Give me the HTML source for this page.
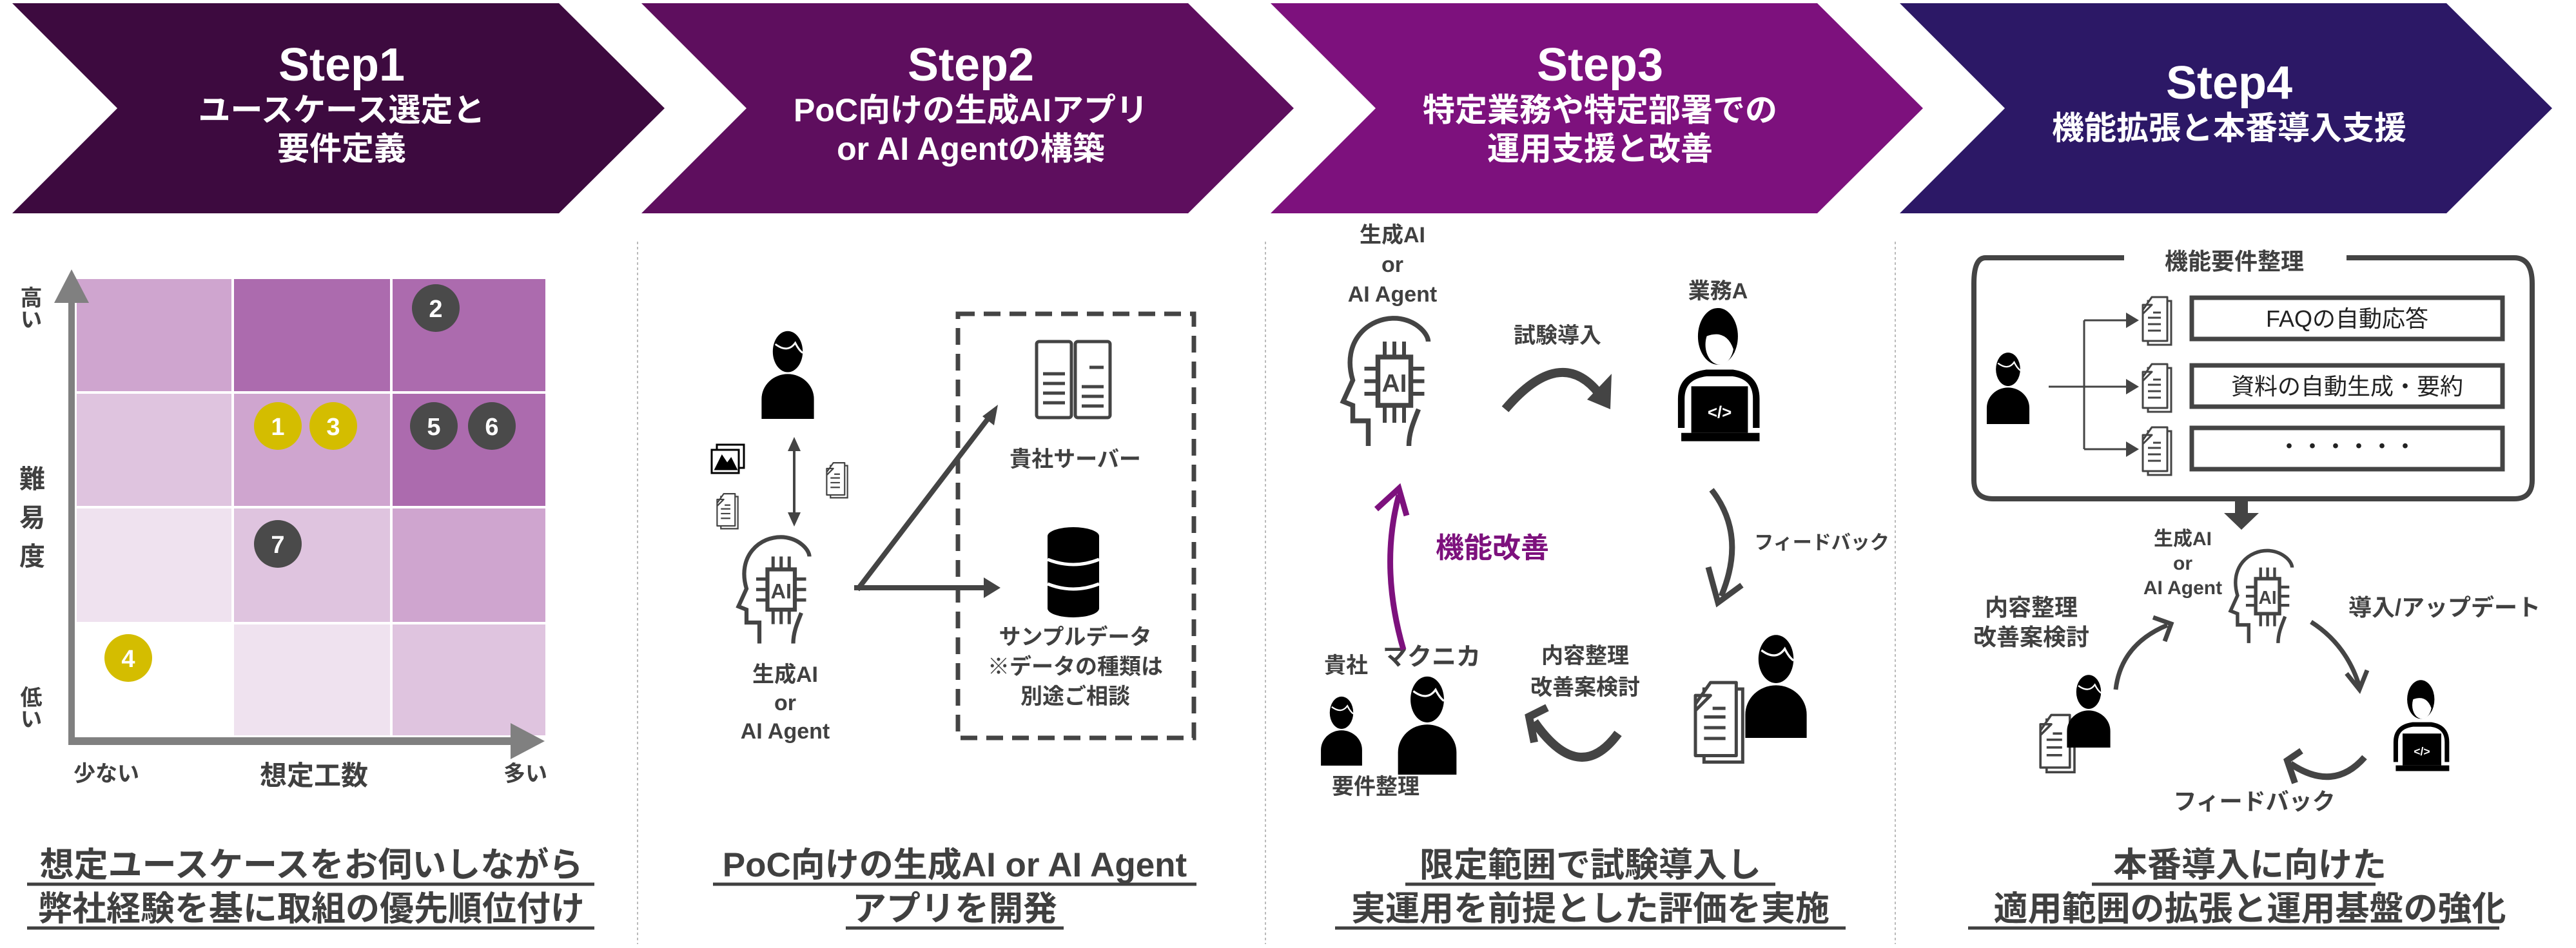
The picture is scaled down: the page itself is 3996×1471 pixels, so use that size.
<!DOCTYPE html>
<html><head><meta charset="utf-8">
<style>
html,body{margin:0;padding:0;background:#fff;}
svg{display:block;}
text{font-family:"Liberation Sans","Noto Sans CJK JP",sans-serif;font-weight:bold;}
</style></head>
<body>
<svg width="3996" height="1471" viewBox="0 0 3996 1471" xmlns="http://www.w3.org/2000/svg">
<defs>
<symbol id="person" viewBox="0 0 100 150">
 <ellipse cx="50" cy="42" rx="24" ry="33" fill="#000"/>
 <path d="M30 30 Q50 45 62 28 Q68 40 74 44" stroke="#fff" stroke-width="3" fill="none"/>
 <path d="M8 150 V118 A42 40 0 0 1 92 118 V150 Z" fill="#000"/>
</symbol>
<symbol id="doc" viewBox="0 0 60 80">
 <path d="M14 8 H50 V76 H14 Z" fill="#fff" stroke="#444" stroke-width="3"/>
 <path d="M6 14 H20 L6 28 Z M20 2 H44 V70 H6 V22 Z" fill="#fff" stroke="#444" stroke-width="3" stroke-linejoin="round"/>
 <path d="M14 34 H34 M14 44 H34 M14 54 H34 M22 26 H34" stroke="#444" stroke-width="3"/>
</symbol>
<symbol id="aihead" viewBox="0 0 100 140">
 <path d="M30 138 V112 H14 V96 L4 92 L14 70 C2 30 30 4 60 6 C80 8 92 22 92 30" fill="none" stroke="#444" stroke-width="5"/>
 <path d="M82 100 C76 115 72 125 72 138" fill="none" stroke="#444" stroke-width="5"/>
 <rect x="40" y="46" width="34" height="50" fill="#fff" stroke="#444" stroke-width="5"/>
 <text x="57" y="82" text-anchor="middle" font-size="26" fill="#444" font-family="Liberation Sans,sans-serif">AI</text>
 <path d="M47 30 V46 M57 30 V46 M67 30 V46 M47 96 V114 M57 96 V114 M67 96 V114 M26 58 H40 M26 71 H40 M26 84 H40 M74 58 H88 M74 71 H88 M74 84 H88" stroke="#444" stroke-width="4"/>
</symbol>
<symbol id="dev" viewBox="0 0 120 170">
 <ellipse cx="58" cy="40" rx="24" ry="34" fill="#000"/>
 <ellipse cx="60" cy="50" rx="17" ry="24" fill="#fff"/>
 <path d="M40 30 Q55 10 78 24 L78 60 Q70 30 44 40 Z" fill="#000"/>
 <path d="M14 150 V115 Q14 88 44 84 H76 Q104 88 104 115 V150" fill="none" stroke="#000" stroke-width="8"/>
 <rect x="26" y="100" width="68" height="56" fill="#000"/>
 <rect x="14" y="156" width="94" height="10" fill="#000"/>
 <text x="60" y="138" text-anchor="middle" font-size="20" fill="#fff" font-family="Liberation Sans,sans-serif">&lt;/&gt;</text>
</symbol>
</defs>

<polygon points="19,5 867,5 1031,168 867,331 19,331 182,168" fill="#3d0a3f"/>
<polygon points="995,5 1843,5 2007,168 1843,331 995,331 1158,168" fill="#5e0e5e"/>
<polygon points="1971,5 2819,5 2983,168 2819,331 1971,331 2134,168" fill="#7d117d"/>
<polygon points="2947,5 3795,5 3959,168 3795,331 2947,331 3110,168" fill="#2c1866"/>
<g fill="#fff" text-anchor="middle">
 <text x="530" y="125" font-size="72">Step1</text>
 <text x="530" y="188" font-size="50">ユースケース選定と</text>
 <text x="530" y="248" font-size="50">要件定義</text>
 <text x="1506" y="125" font-size="72">Step2</text>
 <text x="1506" y="188" font-size="50">PoC向けの生成AIアプリ</text>
 <text x="1506" y="248" font-size="50">or AI Agentの構築</text>
 <text x="2482" y="125" font-size="72">Step3</text>
 <text x="2482" y="188" font-size="50">特定業務や特定部署での</text>
 <text x="2482" y="248" font-size="50">運用支援と改善</text>
 <text x="3458" y="153" font-size="72">Step4</text>
 <text x="3458" y="216" font-size="50">機能拡張と本番導入支援</text>
</g>

<g stroke="#bbb" stroke-width="2" stroke-dasharray="4,4">
 <line x1="989" y1="375" x2="989" y2="1465"/>
 <line x1="1963" y1="375" x2="1963" y2="1465"/>
 <line x1="2940" y1="375" x2="2940" y2="1465"/>
</g>

<g stroke="#fff" stroke-width="4">
 <rect x="117" y="431" width="244" height="178" fill="#cfa5cf"/>
 <rect x="361" y="431" width="246" height="178" fill="#ac6bae"/>
 <rect x="607" y="431" width="241" height="178" fill="#ac6bae"/>
 <rect x="117" y="609" width="244" height="178" fill="#dfc4df"/>
 <rect x="361" y="609" width="246" height="178" fill="#cfa5cf"/>
 <rect x="607" y="609" width="241" height="178" fill="#ac6bae"/>
 <rect x="117" y="787" width="244" height="180" fill="#efe2ef"/>
 <rect x="361" y="787" width="246" height="180" fill="#dfc4df"/>
 <rect x="607" y="787" width="241" height="180" fill="#cfa5cf"/>
 <rect x="117" y="967" width="244" height="176" fill="#fff"/>
 <rect x="361" y="967" width="246" height="176" fill="#efe2ef"/>
 <rect x="607" y="967" width="241" height="176" fill="#dfc4df"/>
</g>
<line x1="111" y1="1152" x2="111" y2="470" stroke="#808080" stroke-width="10"/>
<polygon points="111,418 138,470 84,470" fill="#808080"/>
<line x1="106" y1="1150" x2="795" y2="1150" stroke="#808080" stroke-width="12"/>
<polygon points="845,1150 792,1122 792,1178" fill="#808080"/>
<g font-size="38" fill="#fff" text-anchor="middle">
 <circle cx="676" cy="478" r="37" fill="#4a4a4a"/><text x="676" y="492">2</text>
 <circle cx="431" cy="661" r="37" fill="#d4bd00"/><text x="431" y="675">1</text>
 <circle cx="517" cy="661" r="37" fill="#d4bd00"/><text x="517" y="675">3</text>
 <circle cx="673" cy="661" r="37" fill="#4a4a4a"/><text x="673" y="675">5</text>
 <circle cx="763" cy="661" r="37" fill="#4a4a4a"/><text x="763" y="675">6</text>
 <circle cx="431" cy="844" r="37" fill="#4a4a4a"/><text x="431" y="858">7</text>
 <circle cx="199" cy="1021" r="37" fill="#d4bd00"/><text x="199" y="1035">4</text>
</g>
<g fill="#404040" font-size="34" text-anchor="middle">
 <text x="45" y="478" writing-mode="tb">高い</text>
 <text x="45" y="1098" writing-mode="tb">低い</text>
 <text x="50" y="757" font-size="40">難</text>
 <text x="50" y="817" font-size="40">易</text>
 <text x="50" y="877" font-size="40">度</text>
 <text x="165" y="1212">少ない</text>
 <text x="487" y="1218" font-size="42">想定工数</text>
 <text x="815" y="1212">多い</text>
</g>

<use href="#person" x="1172" y="505" width="100" height="145"/>
<line x1="1232" y1="690" x2="1232" y2="805" stroke="#444" stroke-width="4"/>
<polygon points="1232,678 1222,700 1242,700" fill="#444"/>
<polygon points="1232,817 1222,795 1242,795" fill="#444"/>
<g fill="#fff" stroke="#000" stroke-width="3">
 <rect x="1112" y="690" width="42" height="36"/><rect x="1104" y="698" width="42" height="36"/>
 <path d="M1110 728 L1120 708 L1128 720 L1134 712 L1142 728 Z" fill="#000"/>
</g>
<use href="#doc" x="1278" y="716" width="44" height="60"/>
<use href="#doc" x="1108" y="764" width="44" height="60"/>
<use href="#aihead" x="1138" y="826" width="130" height="175"/>
<g fill="#404040" font-size="34" text-anchor="middle">
 <text x="1218" y="1058">生成AI</text><text x="1218" y="1102">or</text><text x="1218" y="1146">AI Agent</text>
</g>
<path d="M1330 915 L1540 640" stroke="#444" stroke-width="8" fill="none"/>
<polygon points="1548,628 1524,646 1542,660" fill="#444"/>
<path d="M1325 912 H1530" stroke="#444" stroke-width="8"/>
<polygon points="1552,912 1526,896 1526,928" fill="#444"/>
<rect x="1486" y="487" width="366" height="658" fill="none" stroke="#444" stroke-width="7" stroke-dasharray="26,14"/>
<g fill="#fff" stroke="#444" stroke-width="5">
 <rect x="1608" y="530" width="54" height="118" rx="4"/><rect x="1668" y="530" width="54" height="118" rx="4"/>
</g>
<path d="M1618 580 H1652 M1618 595 H1652 M1618 610 H1652 M1618 625 H1652 M1678 600 H1712 M1678 615 H1712 M1678 630 H1712 M1690 570 H1712" stroke="#444" stroke-width="5"/>
<g fill="#000">
 <ellipse cx="1665" cy="832" rx="40" ry="14"/><rect x="1625" y="832" width="80" height="112"/><ellipse cx="1665" cy="944" rx="40" ry="14"/>
</g>
<path d="M1625 868 Q1665 884 1705 868 M1625 906 Q1665 922 1705 906" stroke="#fff" stroke-width="5" fill="none"/>
<g fill="#404040" font-size="34" text-anchor="middle">
 <text x="1668" y="724">貴社サーバー</text>
 <text x="1668" y="1000">サンプルデータ</text>
 <text x="1668" y="1046">※データの種類は</text>
 <text x="1668" y="1092">別途ご相談</text>
</g>

<g fill="#404040" font-size="34" text-anchor="middle">
 <text x="2160" y="376">生成AI</text><text x="2160" y="422">or</text><text x="2160" y="468">AI Agent</text>
 <text x="2416" y="532">試験導入</text>
 <text x="2665" y="463">業務A</text>
 <text x="2826" y="852" font-size="30">フィードバック</text>
 <text x="2088" y="1044">貴社</text>
 <text x="2221" y="1032" font-size="38">マクニカ</text>
 <text x="2459" y="1029">内容整理</text>
 <text x="2459" y="1078">改善案検討</text>
 <text x="2134" y="1232">要件整理</text>
</g>
<use href="#aihead" x="2075" y="485" width="155" height="210"/>
<path d="M2335 635 Q2420 535 2480 610" stroke="#444" stroke-width="14" fill="none"/>
<polygon points="2500,580 2498,635 2462,620" fill="#444"/>
<use href="#dev" x="2590" y="470" width="155" height="220"/>
<path d="M2655 760 Q2710 830 2670 925" stroke="#444" stroke-width="9" fill="none"/>
<polyline points="2650,880 2665,935 2702,908" stroke="#444" stroke-width="9" fill="none"/>
<path d="M2177 1008 Q2140 880 2170 768" stroke="#7d117d" stroke-width="9" fill="none"/>
<polyline points="2135,790 2170,758 2182,800" stroke="#7d117d" stroke-width="9" fill="none"/>
<text x="2315" y="865" font-size="44" fill="#7d117d" text-anchor="middle">機能改善</text>
<use href="#person" x="2043" y="1060" width="76" height="142"/>
<use href="#person" x="2158" y="1040" width="112" height="162"/>
<path d="M2510 1138 Q2450 1220 2380 1120" stroke="#444" stroke-width="14" fill="none"/>
<polyline points="2400,1098 2372,1112 2380,1152" stroke="#444" stroke-width="12" fill="none"/>
<use href="#doc" x="2620" y="1055" width="100" height="135"/>
<use href="#person" x="2695" y="975" width="120" height="170"/>

<path d="M3295 400 H3080 Q3062 400 3062 440 V745 Q3062 774 3092 774 H3900 Q3928 774 3928 745 V440 Q3928 400 3900 400 H3640" stroke="#444" stroke-width="8" fill="none"/>
<text x="3466" y="418" font-size="36" fill="#404040" text-anchor="middle">機能要件整理</text>
<g fill="#fff" stroke="#444" stroke-width="7">
 <rect x="3400" y="462" width="482" height="64"/>
 <rect x="3400" y="567" width="482" height="64"/>
 <rect x="3400" y="664" width="482" height="64"/>
</g>
<g fill="#222" font-size="36" text-anchor="middle">
 <text x="3641" y="507" style="font-weight:normal">FAQの自動応答</text>
 <text x="3641" y="612" style="font-weight:normal">資料の自動生成・要約</text>
 <text x="3641" y="705" style="font-weight:normal">・・・・・・</text>
</g>
<use href="#doc" x="3318" y="458" width="60" height="82"/>
<use href="#doc" x="3318" y="562" width="60" height="82"/>
<use href="#doc" x="3318" y="660" width="60" height="82"/>
<use href="#person" x="3072" y="540" width="86" height="118"/>
<path d="M3178 600 H3304 M3233 497 V697 M3233 497 H3304 M3233 697 H3304" stroke="#444" stroke-width="3" fill="none"/>
<polygon points="3318,497 3298,485 3298,509" fill="#444"/>
<polygon points="3318,600 3298,588 3298,612" fill="#444"/>
<polygon points="3318,697 3298,685 3298,709" fill="#444"/>
<rect x="3467" y="774" width="20" height="24" fill="#444"/>
<polygon points="3450,796 3504,796 3477,822" fill="#444"/>
<g fill="#404040" font-size="30" text-anchor="middle">
 <text x="3386" y="846">生成AI</text><text x="3386" y="884">or</text><text x="3386" y="922">AI Agent</text>
 <text x="3792" y="955" font-size="36">導入/アップデート</text>
 <text x="3151" y="955" font-size="36">内容整理</text>
 <text x="3151" y="1001" font-size="36">改善案検討</text>
 <text x="3497" y="1256" font-size="36">フィードバック</text>
</g>
<use href="#aihead" x="3455" y="848" width="110" height="152"/>
<path d="M3282 1070 Q3290 1000 3362 970" stroke="#444" stroke-width="7" fill="none"/>
<polyline points="3340,958 3368,968 3358,995" stroke="#444" stroke-width="7" fill="none"/>
<path d="M3585 965 Q3640 1000 3660 1065" stroke="#444" stroke-width="7" fill="none"/>
<polyline points="3640,1045 3660,1070 3672,1040" stroke="#444" stroke-width="7" fill="none"/>
<use href="#doc" x="3158" y="1105" width="72" height="100"/>
<use href="#person" x="3200" y="1040" width="80" height="120"/>
<use href="#dev" x="3703" y="1050" width="108" height="150"/>
<path d="M3668 1175 Q3620 1230 3553 1185" stroke="#444" stroke-width="10" fill="none"/>
<polyline points="3570,1165 3548,1180 3560,1215" stroke="#444" stroke-width="10" fill="none"/>

<g fill="#404040" font-size="53" text-anchor="middle">
 <text x="483" y="1360">想定ユースケースをお伺いしながら</text>
 <text x="483" y="1428">弊社経験を基に取組の優先順位付け</text>
 <text x="1481" y="1360">PoC向けの生成AI or AI Agent</text>
 <text x="1481" y="1428">アプリを開発</text>
 <text x="2467" y="1360">限定範囲で試験導入し</text>
 <text x="2467" y="1428">実運用を前提とした評価を実施</text>
 <text x="3490" y="1360">本番導入に向けた</text>
 <text x="3490" y="1428">適用範囲の拡張と運用基盤の強化</text>
</g>
<g stroke="#404040" stroke-width="5">
 <line x1="42" y1="1372" x2="922" y2="1372"/><line x1="42" y1="1440" x2="922" y2="1440"/>
 <line x1="1106" y1="1372" x2="1856" y2="1372"/><line x1="1312" y1="1440" x2="1650" y2="1440"/>
 <line x1="2180" y1="1372" x2="2754" y2="1372"/><line x1="2071" y1="1440" x2="2863" y2="1440"/>
 <line x1="3245" y1="1372" x2="3685" y2="1372"/><line x1="3053" y1="1440" x2="3877" y2="1440"/>
</g>
</svg>
</body></html>
